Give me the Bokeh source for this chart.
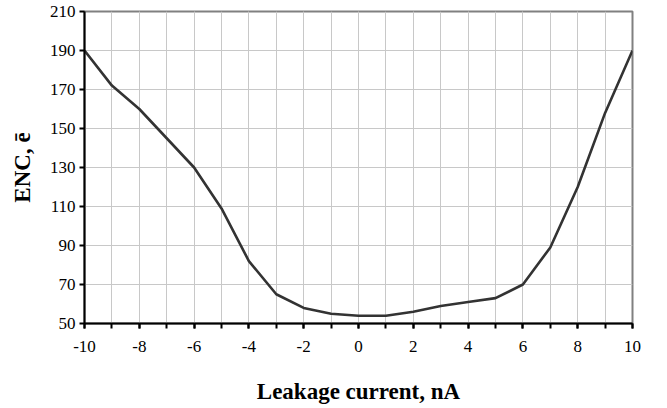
from bokeh.plotting import figure
from bokeh.models import FixedTicker, Range1d
from bokeh.embed import file_html
from bokeh.resources import INLINE

leakage_na = [-10, -9, -8, -7, -6, -5, -4, -3, -2, -1, 0, 1, 2, 3, 4, 5, 6, 7, 8, 9, 10]
enc_e = [190, 172, 160, 145, 130, 109, 82, 65, 58, 55, 54, 54, 56, 59, 61, 63, 70, 89, 120, 158, 190]
x_major = [-10, -8, -6, -4, -2, 0, 2, 4, 6, 8, 10]
x_minor = list(range(-10, 11))
y_ticks = [50, 70, 90, 110, 130, 150, 170, 190, 210]

FONT = "'Liberation Serif', 'Times New Roman', serif"

p = figure(width=667, height=408, output_backend="svg", toolbar_location=None,
           x_range=Range1d(-10, 10), y_range=Range1d(50, 210),
           min_border_left=84, min_border_right=35, min_border_top=11, min_border_bottom=85)

p.line(leakage_na, enc_e, line_color="#333333", line_width=2.6)

p.xaxis.ticker = FixedTicker(ticks=x_major, minor_ticks=x_minor)
p.yaxis.ticker = FixedTicker(ticks=y_ticks, minor_ticks=[])
p.xaxis.major_label_overrides = {t: str(t) for t in x_major}
p.yaxis.major_label_overrides = {t: str(t) for t in y_ticks}

for ax in (p.xaxis, p.yaxis):
    ax.axis_line_color = "black"
    ax.axis_line_width = 2
    ax.major_tick_line_color = "black"
    ax.major_tick_line_width = 2
    ax.major_tick_out = 5
    ax.major_tick_in = 0
    ax.major_label_text_font = FONT
    ax.major_label_text_font_size = "17px"
    ax.major_label_text_color = "black"
    ax.axis_label_text_font = FONT
    ax.axis_label_text_font_size = "23px"
    ax.axis_label_text_font_style = "bold"
    ax.axis_label_text_color = "black"

p.xaxis.minor_tick_line_color = "black"
p.xaxis.minor_tick_line_width = 2
p.xaxis.minor_tick_out = 5
p.xaxis.minor_tick_in = 0
p.yaxis.minor_tick_line_color = None

p.xaxis.axis_label = "Leakage current, nA"
p.yaxis.axis_label = "ENC, ē"
p.xaxis.major_label_standoff = 12
p.xaxis.axis_label_standoff = 24
p.yaxis.major_label_standoff = 4
p.yaxis.axis_label_standoff = 12

p.xgrid.grid_line_color = "#c8c8c8"
p.xgrid.grid_line_width = 1
p.xgrid.minor_grid_line_color = "#c8c8c8"
p.xgrid.minor_grid_line_width = 1
p.ygrid.grid_line_color = "#c8c8c8"
p.ygrid.grid_line_width = 1

p.outline_line_color = "#808080"
p.outline_line_width = 2
p.background_fill_color = "white"
p.border_fill_color = "white"

open("out.html", "w").write(file_html(p, INLINE))
